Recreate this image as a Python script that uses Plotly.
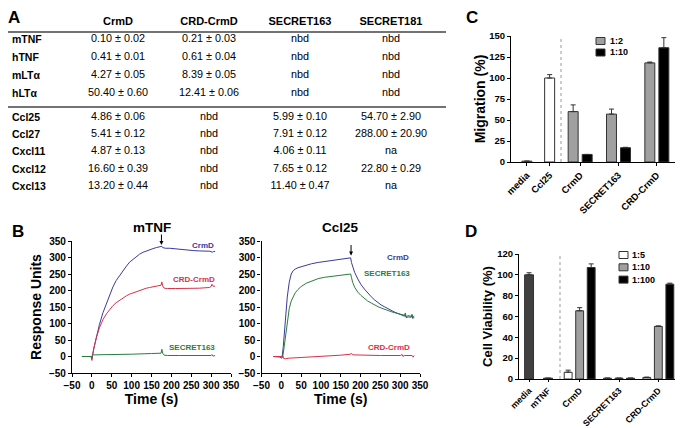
import plotly.graph_objects as go

# ---------------- DATA ----------------
# Panel A table (Kd values)
tbl_cols = ["CrmD", "CRD-CrmD", "SECRET163", "SECRET181"]
ligands_tnf = ["mTNF", "hTNF", "mLTα", "hLTα"]
ligands_chem = ["Ccl25", "Ccl27", "Cxcl11", "Cxcl12", "Cxcl13"]
crmd_tnf = ["0.10 ± 0.02", "0.41 ± 0.01", "4.27 ± 0.05", "50.40 ± 0.60"]
crd_tnf = ["0.21 ± 0.03", "0.61 ± 0.04", "8.39 ± 0.05", "12.41 ± 0.06"]
s163_tnf = ["nbd", "nbd", "nbd", "nbd"]
s181_tnf = ["nbd", "nbd", "nbd", "nbd"]
crmd_chem = ["4.86 ± 0.06", "5.41 ± 0.12", "4.87 ± 0.13", "16.60 ± 0.39", "13.20 ± 0.44"]
crd_chem = ["nbd", "nbd", "nbd", "nbd", "nbd"]
s163_chem = ["5.99 ± 0.10", "7.91 ± 0.12", "4.06 ± 0.11", "7.65 ± 0.12", "11.40 ± 0.47"]
s181_chem = ["54.70 ± 2.90", "288.00 ± 20.90", "na", "22.80 ± 0.29", "na"]

# Panel B – mTNF sensorgrams
mtnf_crmd_t = [-25, -10, -2, 0, 1, 5, 11, 19, 28, 37, 45, 53, 61, 70, 78, 87, 95, 104, 112, 120,
               129, 137, 145, 154, 162, 170, 176, 178, 185, 196, 210, 225, 238, 255, 270, 285,
               297, 303, 306, 310]
mtnf_crmd_v = [0, 0, 0, -8, 2, 25, 56, 97, 133, 163, 189, 211, 230, 246, 260, 274, 286, 295, 303, 310,
               316, 320, 324, 327, 330, 332, 334, 330, 328, 328, 326, 324, 323, 321, 320, 319,
               319, 316, 318, 318]
mtnf_crd_t = [-25, -10, -2, 0, 1, 5, 11, 19, 28, 37, 45, 53, 61, 70, 78, 87, 95, 104, 112, 120,
              129, 137, 145, 154, 162, 170, 174, 176, 178, 182, 190, 210, 240, 270, 295, 300,
              302, 305, 310]
mtnf_crd_v = [0, 0, 0, -12, 0, 25, 56, 87, 112, 130, 143, 154, 163, 171, 178, 184, 189, 193, 197, 201,
              204, 207, 209, 211, 213, 214, 216, 226, 214, 207, 206, 206, 206, 207, 209, 212,
              219, 213, 213]
mtnf_s163_t = [-25, -10, -2, 0, 1, 5, 20, 50, 100, 150, 174, 176, 178, 182, 190, 220, 260, 300,
               302, 305, 310]
mtnf_s163_v = [0, 0, 0, -5, 4, 5, 5, 6, 7, 9, 10, 22, 10, 4, 3, 3, 3, 3, 6, 1, 3]

# Panel B – Ccl25 sensorgrams
ccl_crmd_t = [-20, -5, 0, 2, 5, 10, 15, 20, 25, 30, 35, 42, 50, 63, 76, 93, 109, 126, 143, 160, 175,
              177, 180, 185, 193, 201, 210, 218, 227, 235, 244, 252, 260, 268, 277, 285, 294,
              302, 311, 313, 315, 320, 328, 330, 332, 335]
ccl_crmd_v = [0, 0, 0, -2, 30, 110, 180, 225, 250, 260, 265, 269, 272, 277, 281, 285, 288, 291, 294, 297, 299,
              285, 272, 255, 235, 218, 204, 192, 181, 172, 163, 156, 151, 145, 140, 135, 130,
              126, 122, 128, 118, 120, 119, 124, 115, 119]
ccl_s163_t = [-20, -5, 0, 3, 5, 10, 15, 20, 25, 30, 35, 42, 50, 63, 76, 93, 109, 126, 143, 160, 175,
              177, 180, 185, 193, 201, 210, 218, 227, 235, 244, 252, 260, 268, 277, 285, 294,
              302, 311, 313, 315, 320, 328, 330, 332, 335]
ccl_s163_v = [0, 0, -5, -3, 10, 60, 110, 145, 168, 183, 193, 203, 212, 222, 229, 236, 240, 243, 246, 248, 250,
              240, 225, 210, 195, 185, 176, 168, 162, 156, 151, 147, 143, 140, 136, 133, 130,
              127, 125, 132, 120, 124, 122, 128, 118, 123]
ccl_crd_t = [-20, 0, 3, 6, 10, 20, 50, 100, 150, 175, 177, 180, 200, 250, 300, 305, 307, 310, 330, 333, 335]
ccl_crd_v = [0, 0, 4, -6, -7, -5, -3, 0, 4, 7, 10, 5, 4, 3, 3, 6, 0, 3, 3, -2, 3]

# Panel C – migration
c_ctrl_cat = ["media", "Ccl25"]
c_ctrl_val = [1, 100]
c_ctrl_err = [0, 4]
c_cat = ["CrmD", "SECRET163", "CRD-CrmD"]
c_r2_val = [60, 57, 118]
c_r2_err = [8, 6, 1]
c_r10_val = [9, 17, 136]
c_r10_err = [0, 0.5, 12]
c_series = ["1:2", "1:10"]

# Panel D – cell viability
d_ctrl_cat = ["media", "mTNF"]
d_ctrl_val = [100, 0.8]
d_ctrl_err = [2, 0]
d_cat = ["CrmD", "SECRET163", "CRD-CrmD"]
d_r5_val = [6.5, 0.8, 1.5]
d_r5_err = [2, 0, 0.3]
d_r10_val = [65.5, 0.8, 50.5]
d_r10_err = [3, 0, 0.5]
d_r100_val = [107, 0.8, 91]
d_r100_err = [3.5, 0, 1]
d_series = ["1:5", "1:10", "1:100"]

# ---------------- STYLE / LAYOUT ----------------
# The page body has an 8px margin, so the figure is sized to the visible area
# and positions below are given in window pixels, shifted by that offset.
OFF = 8
W, H = 683 - OFF, 428 - OFF
FONT = "Liberation Sans, Arial, sans-serif"
BLUE, RED, GREEN = "#3a3a9c", "#d8304a", "#2a7d3e"
EDGE = "#333333"


def px(x):
    return min(max((x - OFF) / W, 0.0), 1.0)


def py(y):
    return min(max(1 - (y - OFF) / H, 0.0), 1.0)


def bold(s):
    return "<b>" + s + "</b>"


fig = go.Figure()

# ---- Panel A: table drawn as text on hidden category axes ----
HDR = "hdr"
top_cols = [crmd_tnf, crd_tnf, s163_tnf, s181_tnf]
bot_cols = [crmd_chem, crd_chem, s163_chem, s181_chem]
fig.add_trace(go.Scatter(x=tbl_cols, y=[HDR] * 4, text=[bold(c) for c in tbl_cols], mode="text",
                         xaxis="x7", yaxis="y7", showlegend=False, hoverinfo="skip", cliponaxis=False,
                         textfont=dict(family=FONT, size=11, color="black")))
for col, vals in zip(tbl_cols, top_cols):
    fig.add_trace(go.Scatter(x=[col] * len(vals), y=ligands_tnf, text=vals, mode="text",
                             xaxis="x7", yaxis="y7", showlegend=False, hoverinfo="skip",
                             cliponaxis=False, textfont=dict(family=FONT, size=10.8, color="black")))
for col, vals in zip(tbl_cols, bot_cols):
    fig.add_trace(go.Scatter(x=[col] * len(vals), y=ligands_chem, text=vals, mode="text",
                             xaxis="x7", yaxis="y8", showlegend=False, hoverinfo="skip",
                             cliponaxis=False, textfont=dict(family=FONT, size=10.8, color="black")))

# ---- Panel B: sensorgrams ----
curves = [
    ("x", "y", mtnf_crmd_t, mtnf_crmd_v, BLUE),
    ("x", "y", mtnf_crd_t, mtnf_crd_v, RED),
    ("x", "y", mtnf_s163_t, mtnf_s163_v, GREEN),
    ("x2", "y2", ccl_crmd_t, ccl_crmd_v, BLUE),
    ("x2", "y2", ccl_s163_t, ccl_s163_v, GREEN),
    ("x2", "y2", ccl_crd_t, ccl_crd_v, RED),
]
for xa, ya, t, v, col in curves:
    fig.add_trace(go.Scatter(x=t, y=v, mode="lines", xaxis=xa, yaxis=ya, showlegend=False,
                             line=dict(color=col, width=1), hoverinfo="skip"))

# ---- Panel C: migration bars ----
err_style = dict(type="data", symmetric=False, color=EDGE, thickness=1, width=2.5)
C_COLORS = ["#a0a0a0", "black"]
fig.add_trace(go.Bar(x=c_ctrl_cat, y=c_ctrl_val, xaxis="x3", yaxis="y3", width=0.44, offset=-0.22,
                     marker=dict(color="white", line=dict(color=EDGE, width=1)),
                     error_y=dict(array=c_ctrl_err, arrayminus=[0] * 2, **err_style),
                     showlegend=False))
for vals, errs, nm, col, off in [(c_r2_val, c_r2_err, c_series[0], C_COLORS[0], -0.313),
                                 (c_r10_val, c_r10_err, c_series[1], C_COLORS[1], 0.053)]:
    fig.add_trace(go.Bar(x=c_cat, y=vals, xaxis="x4", yaxis="y3", width=0.26, offset=off,
                         name=nm, showlegend=False,
                         marker=dict(color=col, line=dict(color=EDGE, width=1)),
                         error_y=dict(array=errs, arrayminus=[0] * 3, **err_style)))

# ---- Panel D: viability bars ----
D_COLORS = ["white", "#a0a0a0", "black"]
fig.add_trace(go.Bar(x=d_ctrl_cat, y=d_ctrl_val, xaxis="x5", yaxis="y5", width=0.47, offset=-0.235,
                     marker=dict(color="#404040", line=dict(color=EDGE, width=1)),
                     error_y=dict(array=d_ctrl_err, arrayminus=[0] * 2, **err_style),
                     showlegend=False))
for vals, errs, nm, col, off in [(d_r5_val, d_r5_err, d_series[0], D_COLORS[0], -0.393),
                                 (d_r10_val, d_r10_err, d_series[1], D_COLORS[1], -0.1),
                                 (d_r100_val, d_r100_err, d_series[2], D_COLORS[2], 0.193)]:
    fig.add_trace(go.Bar(x=d_cat, y=vals, xaxis="x6", yaxis="y5", width=0.2, offset=off,
                         name=nm, showlegend=False,
                         marker=dict(color=col, line=dict(color=EDGE, width=1)),
                         error_y=dict(array=errs, arrayminus=[0] * 3, **err_style)))

# ---- axes ----
tickf = dict(family=FONT, size=10, color="black", weight="bold")
tickf_c = dict(family=FONT, size=9.5, color="black", weight="bold")
tickf_d = dict(family=FONT, size=8.8, color="black", weight="bold")
common = dict(showline=True, linecolor="black", linewidth=1.2, ticks="outside", ticklen=3,
              tickwidth=1, tickcolor="black", showgrid=False, zeroline=False, automargin=False)
common_d = dict(common, ticklen=2)
titlef = dict(family=FONT, size=14, color="black", weight="bold")
hidden_row_axis = dict(type="category", anchor="free", position=px(8), showline=False, ticks="",
                       showgrid=False, zeroline=False, automargin=False, ticklabelposition="inside",
                       tickfont=dict(family=FONT, size=10.5, color="black", weight="bold"))

fig.update_layout(
    template="none",
    width=W, height=H, margin=dict(l=0, r=0, t=0, b=0),
    paper_bgcolor="white", plot_bgcolor="rgba(0,0,0,0)",
    font=dict(family=FONT, color="black"),
    barmode="overlay", showlegend=False,
    xaxis=dict(domain=[px(72), px(231)], range=[-50, 350], dtick=50, tick0=-50, anchor="y",
               tickfont=tickf, title=dict(text="Time (s)", font=titlef, standoff=4), **common),
    yaxis=dict(domain=[py(373), py(241)], range=[-50, 350], dtick=50, tick0=-50, anchor="x",
               tickfont=tickf, title=dict(text="Response Units", font=titlef, standoff=4), **common),
    xaxis2=dict(domain=[px(261.5), px(420)], range=[-50, 350], dtick=50, tick0=-50, anchor="y2",
                tickfont=tickf, title=dict(text="Time (s)", font=titlef, standoff=4), **common),
    yaxis2=dict(domain=[py(373), py(241)], range=[-50, 350], dtick=50, tick0=-50, anchor="x2",
                tickfont=tickf, **common),
    xaxis3=dict(domain=[px(511), px(561)], range=[-0.7, 1.5], type="category", anchor="y3",
                tickangle=-45, tickfont=tickf_c, **common),
    xaxis4=dict(domain=[px(561), px(676)], range=[-0.5, 2.5], type="category", anchor="y3",
                tickangle=-45, tickfont=tickf_c, **common),
    yaxis3=dict(domain=[py(162), py(36)], range=[0, 150], dtick=25, anchor="x3",
                tickfont=tickf_c, title=dict(text="Migration (%)", font=titlef, standoff=0), **common),
    xaxis5=dict(domain=[px(519), px(560)], range=[-0.53, 1.63], type="category", anchor="y5",
                tickangle=-45, tickfont=tickf_d, **common_d),
    xaxis6=dict(domain=[px(560), px(678)], range=[-0.5, 2.5], type="category", anchor="y5",
                tickangle=-45, tickfont=tickf_d, **common_d),
    yaxis5=dict(domain=[py(379), py(254)], range=[0, 120], dtick=20, anchor="x5",
                tickfont=tickf_c,
                title=dict(text="Cell Viability (%)", font=dict(titlef, size=13), standoff=1), **common),
    # table axes
    xaxis7=dict(domain=[px(72.5), px(436.5)], type="category", categoryarray=tbl_cols,
                categoryorder="array", range=[-0.5, 3.5], anchor="y7", visible=False),
    yaxis7=dict(domain=[py(102), py(13)], categoryarray=[HDR] + ligands_tnf, categoryorder="array",
                range=[4.5, -0.5], tickvals=ligands_tnf, ticktext=ligands_tnf, **hidden_row_axis),
    yaxis8=dict(domain=[py(195), py(108.5)], categoryarray=ligands_chem, categoryorder="array",
                range=[4.5, -0.5], tickvals=ligands_chem, ticktext=ligands_chem, **hidden_row_axis),
)

# ---- shapes: table rules, dashed separators, legend swatches ----
fig.add_shape(type="line", xref="paper", yref="paper", x0=px(8), x1=px(446), y0=py(32), y1=py(32),
              line=dict(color="#444", width=1.5))
fig.add_shape(type="line", xref="paper", yref="paper", x0=px(8), x1=px(446), y0=py(107), y1=py(107),
              line=dict(color="#444", width=1.5))
fig.add_shape(type="line", xref="x4 domain", yref="y3", x0=0, x1=0, y0=0, y1=150,
              line=dict(color="#999", width=1, dash="dot"))
fig.add_shape(type="line", xref="x6 domain", yref="y5", x0=0, x1=0, y0=0, y1=120,
              line=dict(color="#999", width=1, dash="dot"))

ann = []
# legends (swatch + label)
for i, (nm, col) in enumerate(zip(c_series, C_COLORS)):
    yc = 41 + i * 11.5
    fig.add_shape(type="rect", xref="paper", yref="paper", x0=px(596), x1=px(605),
                  y0=py(yc + 3.5), y1=py(yc - 3.5), fillcolor=col, line=dict(color=EDGE, width=1))
    ann.append(dict(text=bold(nm), x=px(608), y=py(yc), xref="paper", yref="paper",
                    xanchor="left", yanchor="middle",
                    showarrow=False, font=dict(family=FONT, size=9, color="black")))
for i, (nm, col) in enumerate(zip(d_series, D_COLORS)):
    yc = 255 + i * 12.3
    fig.add_shape(type="rect", xref="paper", yref="paper", x0=px(619), x1=px(628),
                  y0=py(yc + 3.5), y1=py(yc - 3.5), fillcolor=col, line=dict(color=EDGE, width=1))
    ann.append(dict(text=bold(nm), x=px(630), y=py(yc), xref="paper", yref="paper",
                    xanchor="left", yanchor="middle",
                    showarrow=False, font=dict(family=FONT, size=9, color="black")))

# panel letters
for letter, x, y in [("A", 14, 17), ("B", 18, 231), ("C", 472, 17), ("D", 471, 231)]:
    ann.append(dict(text=bold(letter), x=px(x), y=py(y), xref="paper", yref="paper",
                    xanchor="center", yanchor="middle", showarrow=False,
                    font=dict(family=FONT, size=17, color="black")))
# sensorgram titles
for title, xr, yr in [("mTNF", "x domain", "y domain"), ("Ccl25", "x2 domain", "y2 domain")]:
    ann.append(dict(text=bold(title), x=0.5, y=1, xref=xr, yref=yr, yshift=14,
                    xanchor="center", yanchor="middle", showarrow=False,
                    font=dict(family=FONT, size=13.5, color="black")))
# curve labels
labels = [("x", "y", 312, 337, "CrmD", BLUE), ("x", "y", 315, 232, "CRD-CrmD", RED),
          ("x", "y", 315, 28, "SECRET163", GREEN),
          ("x2", "y2", 328, 300, "CrmD", BLUE), ("x2", "y2", 330, 253, "SECRET163", GREEN),
          ("x2", "y2", 330, 28, "CRD-CrmD", RED)]
for xa, ya, x, y, txt, col in labels:
    ann.append(dict(text=bold(txt), x=x, y=y, xref=xa, yref=ya, xanchor="right", yanchor="middle",
                    showarrow=False, font=dict(family=FONT, size=8, color=col)))
# injection-end arrows
for xa, ya, x, y in [("x", "y", 175, 338), ("x2", "y2", 176, 306)]:
    ann.append(dict(text="", x=x, y=y, xref=xa, yref=ya, ax=0, ay=-12, showarrow=True,
                    arrowhead=2, arrowsize=0.8, arrowwidth=1, arrowcolor="black"))
fig.update_layout(annotations=ann)

fig.write_html("out.html")
